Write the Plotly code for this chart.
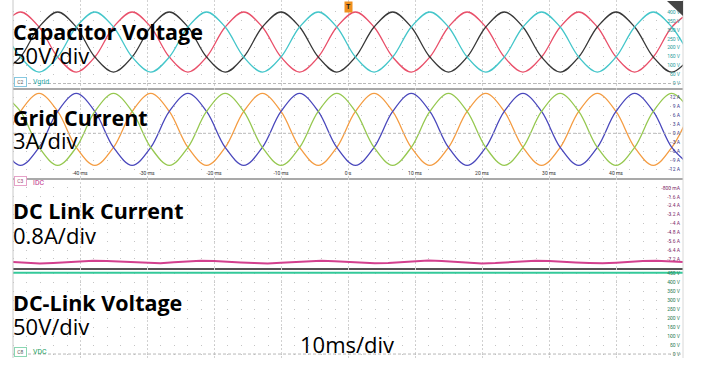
import plotly.graph_objects as go
from plotly.subplots import make_subplots

# ---------------- data ----------------
# sample instants (ms), every 60 electrical degrees of the 60 Hz waveforms
t_ac = [-51.67, -48.89, -46.11, -43.33, -40.56, -37.78, -35.00, -32.22, -29.44, -26.67,
        -23.89, -21.11, -18.33, -15.56, -12.78, -10.00, -7.22, -4.44, -1.67, 1.11,
        3.89, 6.67, 9.44, 12.22, 15.00, 17.78, 20.56, 23.33, 26.11, 28.89,
        31.67, 34.44, 37.22, 40.00, 42.78, 45.56, 48.33, 51.11]

# Capacitor voltage (V), three phases
vcap_red = [316, 400, 316, 148, 64, 148, 316, 400, 316, 148, 64, 148,
            316, 400, 316, 148, 64, 148, 316, 400, 316, 148, 64, 148,
            316, 400, 316, 148, 64, 148, 316, 400, 316, 148, 64, 148,
            316, 400]
vcap_black = [64, 148, 316, 400, 316, 148, 64, 148, 316, 400, 316, 148,
              64, 148, 316, 400, 316, 148, 64, 148, 316, 400, 316, 148,
              64, 148, 316, 400, 316, 148, 64, 148, 316, 400, 316, 148,
              64, 148]
vcap_cyan = [316, 148, 64, 148, 316, 400, 316, 148, 64, 148, 316, 400,
             316, 148, 64, 148, 316, 400, 316, 148, 64, 148, 316, 400,
             316, 148, 64, 148, 316, 400, 316, 148, 64, 148, 316, 400,
             316, 148]

# Grid current (A), three phases
ig_green = [13.3, 7.3, -4.7, -10.7, -4.7, 7.3, 13.3, 7.3, -4.7, -10.7, -4.7, 7.3,
            13.3, 7.3, -4.7, -10.7, -4.7, 7.3, 13.3, 7.3, -4.7, -10.7, -4.7, 7.3,
            13.3, 7.3, -4.7, -10.7, -4.7, 7.3, 13.3, 7.3, -4.7, -10.7, -4.7, 7.3,
            13.3, 7.3]
ig_orange = [-4.7, 7.3, 13.3, 7.3, -4.7, -10.7, -4.7, 7.3, 13.3, 7.3, -4.7, -10.7,
             -4.7, 7.3, 13.3, 7.3, -4.7, -10.7, -4.7, 7.3, 13.3, 7.3, -4.7, -10.7,
             -4.7, 7.3, 13.3, 7.3, -4.7, -10.7, -4.7, 7.3, 13.3, 7.3, -4.7, -10.7,
             -4.7, 7.3]
ig_blue = [-4.7, -10.7, -4.7, 7.3, 13.3, 7.3, -4.7, -10.7, -4.7, 7.3, 13.3, 7.3,
           -4.7, -10.7, -4.7, 7.3, 13.3, 7.3, -4.7, -10.7, -4.7, 7.3, 13.3, 7.3,
           -4.7, -10.7, -4.7, 7.3, 13.3, 7.3, -4.7, -10.7, -4.7, 7.3, 13.3, 7.3,
           -4.7, -10.7]

# DC link current (A)
t_dc = [-50, -48, -46, -44, -42, -40, -38, -36, -34, -32, -30, -28, -26, -24, -22, -20,
        -18, -16, -14, -12, -10, -8, -6, -4, -2, 0, 2, 4, 6, 8, 10, 12, 14, 16, 18, 20,
        22, 24, 26, 28, 30, 32, 34, 36, 38, 40, 42, 44, 46, 48, 50]
idc = [-7.49, -7.56, -7.61, -7.56, -7.50, -7.40, -7.37, -7.39, -7.44, -7.55, -7.59, -7.60,
       -7.51, -7.44, -7.36, -7.38, -7.42, -7.52, -7.57, -7.61, -7.54, -7.47, -7.37, -7.36,
       -7.41, -7.48, -7.58, -7.59, -7.57, -7.48, -7.42, -7.35, -7.39, -7.46, -7.53, -7.61,
       -7.58, -7.51, -7.44, -7.36, -7.38, -7.42, -7.52, -7.57, -7.60, -7.54, -7.45, -7.39,
       -7.36, -7.41, -7.49]

# DC link voltage (V)
t_vdc = [-50, -25, 0, 25, 50]
vdc = [452, 452, 452, 452, 452]

# tick labels
t_ticks = [-40, -30, -20, -10, 0, 10, 20, 30, 40]
t_labels = ["-40 ms", "-30 ms", "-20 ms", "-10 ms", "0 s", "10 ms", "20 ms", "30 ms", "40 ms"]
v_ticks = [0, 50, 100, 150, 200, 250, 300, 350, 400]
v_labels = ["0 V", "50 V", "100 V", "150 V", "200 V", "250 V", "300 V", "350 V", "400 V"]
i_ticks = [-12, -9, -6, -3, 0, 3, 6, 9, 12]
i_labels = ["-12 A", "-9 A", "-6 A", "-3 A", "0 A", "3 A", "6 A", "9 A", "12 A"]
idc_ticks = [-0.8, -1.6, -2.4, -3.2, -4.0, -4.8, -5.6, -6.4, -7.2]
idc_labels = ["-800 mA", "-1.6 A", "-2.4 A", "-3.2 A", "-4 A", "-4.8 A", "-5.6 A", "-6.4 A", "-7.2 A"]
vdc_ticks = [0, 50, 100, 150, 200, 250, 300, 350, 400, 450]
vdc_labels = ["0 V", "50 V", "100 V", "150 V", "200 V", "250 V", "300 V", "350 V", "400 V", "450 V"]

# ---------------- figure ----------------
H_PLOT = 358.0


def py(p):
    return 1 - p / H_PLOT


def px(p):
    return (p - 13) / 670.0


fig = make_subplots(rows=4, cols=1, shared_xaxes=True, vertical_spacing=0)

lw = 1.3
fig.add_trace(go.Scatter(x=t_ac, y=vcap_red, mode="lines",
                         line=dict(color="#e9506a", width=lw, shape="spline")), row=1, col=1)
fig.add_trace(go.Scatter(x=t_ac, y=vcap_black, mode="lines",
                         line=dict(color="#383838", width=lw, shape="spline")), row=1, col=1)
fig.add_trace(go.Scatter(x=t_ac, y=vcap_cyan, mode="lines",
                         line=dict(color="#44c6ca", width=lw, shape="spline")), row=1, col=1)

fig.add_trace(go.Scatter(x=t_ac, y=ig_orange, mode="lines",
                         line=dict(color="#f49c42", width=lw, shape="spline")), row=2, col=1)
fig.add_trace(go.Scatter(x=t_ac, y=ig_blue, mode="lines",
                         line=dict(color="#4a48bc", width=lw, shape="spline")), row=2, col=1)
fig.add_trace(go.Scatter(x=t_ac, y=ig_green, mode="lines",
                         line=dict(color="#96c850", width=lw, shape="spline")), row=2, col=1)

fig.add_trace(go.Scatter(x=t_dc, y=idc, mode="lines",
                         line=dict(color="#d2408e", width=2.0)), row=3, col=1)

fig.add_trace(go.Scatter(x=t_vdc, y=vdc, mode="lines",
                         line=dict(color="#34c99a", width=2.0)), row=4, col=1)

tick_font = dict(family="Roboto", size=5)
grid_v = dict(showgrid=True, gridcolor="#d2d2d2", griddash="2px,2px", gridwidth=1)

for k in range(1, 5):
    ax = dict(range=[-50, 50], tickvals=t_ticks, ticktext=t_labels, zeroline=False,
              showticklabels=False, ticks="", **grid_v)
    if k == 2:
        ax.update(showticklabels=True, ticklabelposition="inside",
                  tickfont=dict(family="Roboto", size=5, color="#333333"))
    if k in (1, 2):
        ax.update(showline=True, linecolor="#a9a9a9", linewidth=2)
    if k == 3:
        ax.update(showline=True, linecolor="#555555", linewidth=1.5)
    fig.update_layout(**{("xaxis" if k == 1 else f"xaxis{k}"): ax})

ydots = dict(showgrid=True, gridcolor="#c4c4c4", griddash="1px,12.4px", gridwidth=1,
             zeroline=False, side="right", ticklabelposition="inside", ticks="")

fig.update_layout(
    yaxis=dict(domain=[py(87.5), 1], range=[-22.4, 467], tickvals=v_ticks, ticktext=v_labels,
               tickfont=dict(tick_font, color="#2b9e9e"), **ydots),
    yaxis2=dict(domain=[py(178), py(87.5)], range=[-14.9, 15.27], tickvals=i_ticks, ticktext=i_labels,
                tickfont=dict(tick_font, color="#3a3a8a"), **ydots),
    yaxis3=dict(domain=[py(268), py(178)], range=[-8.02, 0.09], tickvals=idc_ticks, ticktext=idc_labels,
                tickfont=dict(tick_font, color="#7e2a6a"), **ydots),
    yaxis4=dict(domain=[0, py(268)], range=[-22, 478], tickvals=vdc_ticks, ticktext=vdc_labels,
                tickfont=dict(tick_font, color="#2c7c52"), **ydots),
)

shapes = []
# dashed zero-level lines
for yref in ("y", "y2", "y4"):
    shapes.append(dict(type="line", xref="paper", yref=yref, x0=0, x1=1, y0=0, y1=0,
                       line=dict(color="#b8b8b8", width=1, dash="3px,2px")))
# borders
shapes.append(dict(type="line", xref="paper", yref="paper", x0=0, x1=0, y0=0, y1=1,
                   line=dict(color="#c8c8c8", width=1)))
shapes.append(dict(type="line", xref="paper", yref="paper", x0=1, x1=1, y0=0, y1=1,
                   line=dict(color="#d8d8d8", width=1)))
# corner tab (top right)
shapes.append(dict(type="path", xref="paper", yref="paper",
                   path=f"M {px(667)} {py(1)} L {px(683)} {py(1)} L {px(683)} {py(16)} Z",
                   fillcolor="#454545", line=dict(width=0)))
fig.update_layout(shapes=shapes)

big_b = dict(family="Open Sans", size=21.5, color="#000000", weight="bold")
big_r = dict(family="Open Sans", size=22, color="#000000")
ann = []


def label(text, x_px, y_px, font, xanchor="left"):
    ann.append(dict(text=text, xref="paper", yref="paper", x=px(x_px), y=py(y_px),
                    xanchor=xanchor, yanchor="middle", showarrow=False, font=font, borderpad=0))


label("Capacitor Voltage", 12, 31.5, big_b)
label("50V/div", 12, 55, big_r)
label("Grid Current", 12, 117, big_b)
label("3A/div", 12, 140, big_r)
label("DC Link Current", 12, 210.5, big_b)
label("0.8A/div", 12, 234.5, big_r)
label("DC-Link Voltage", 12, 302.5, big_b)
label("50V/div", 12, 325.5, big_r)
label("10ms/div", 299, 344, big_r)

small = dict(family="Roboto", size=7)
label("Vgrid", 32, 81.5, dict(small, color="#1fa8a8"))
label("IDC", 32, 183, dict(small, color="#c0308a"))
label("VDC", 32, 351.5, dict(small, color="#22a060"))


def tag(text, x_px, y_px, border, color):
    ann.append(dict(text=text, xref="paper", yref="paper", x=px(x_px), y=py(y_px),
                    xanchor="left", yanchor="middle", showarrow=False,
                    font=dict(family="Roboto", size=5, color=color),
                    bgcolor="#ffffff", bordercolor=border, borderwidth=1, borderpad=1))


tag(" C2 ", 14, 81.5, "#86c8e0", "#555555")
tag(" C3 ", 14, 180.5, "#e6a2c8", "#a04070")
tag(" C8 ", 14, 352, "#8ad6b2", "#555555")

# trigger marker
ann.append(dict(text="T", xref="x", yref="paper", x=0, y=py(6.5), xanchor="center",
                yanchor="middle", showarrow=False,
                font=dict(family="Roboto", size=7, color="#222222", weight="bold"),
                bgcolor="#f0901e", borderpad=1))

fig.update_layout(
    annotations=ann,
    width=702, height=366,
    margin=dict(l=13, r=19, t=0, b=8),
    paper_bgcolor="#ffffff", plot_bgcolor="#ffffff",
    showlegend=False,
)

fig.write_html("out.html",
               config={"displayModeBar": False},
               post_script="document.body.style.margin='0px';document.body.style.overflow='hidden';")
